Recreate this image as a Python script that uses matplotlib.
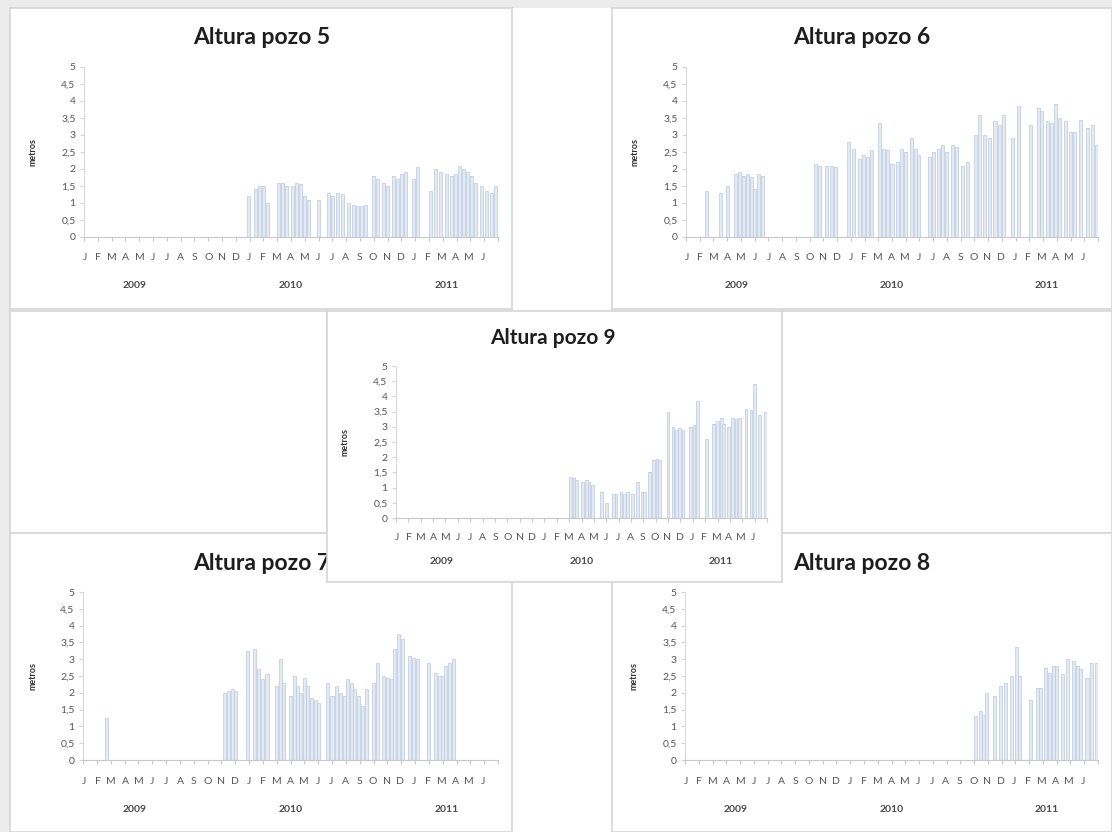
import matplotlib
matplotlib.use('Agg')
import matplotlib.pyplot as plt
import matplotlib.transforms as mtrans
from matplotlib.ticker import FuncFormatter, MultipleLocator

plt.rcParams['font.family'] = ['Lato', 'DejaVu Sans']

W, H = 1112, 832

meses = ['J', 'F', 'M', 'A', 'M', 'J', 'J', 'A', 'S', 'O', 'N', 'D'] * 2 + ['J', 'F', 'M', 'A', 'M', 'J']
anios = ['2009', '2010', '2011']
anios_pos = [3.7, 15.0, 26.3]

# posicion en meses desde enero 2009, altura en metros
pozo5_mes = [11.9, 12.4, 12.7, 13.0, 13.3, 14.1, 14.4, 14.7, 15.1, 15.4, 15.7, 16.0,
             16.3, 17.0, 17.7, 18.0, 18.4, 18.7, 19.2, 19.5, 19.8, 20.1, 20.4, 21.0,
             21.3, 21.7, 22.0, 22.4, 22.7, 23.0, 23.3, 23.9, 24.2, 25.1, 25.5, 25.8,
             26.3, 26.6, 26.9, 27.2, 27.5, 27.8, 28.1, 28.4, 28.8, 29.2, 29.5, 29.8]
pozo5_alt = [1.2, 1.4, 1.5, 1.5, 1.0, 1.6, 1.6, 1.5, 1.5, 1.6, 1.55, 1.2,
             1.1, 1.1, 1.3, 1.2, 1.3, 1.25, 1.0, 0.95, 0.9, 0.9, 0.95, 1.8,
             1.7, 1.6, 1.5, 1.8, 1.7, 1.85, 1.9, 1.7, 2.05, 1.35, 2.0, 1.9,
             1.85, 1.8, 1.85, 2.1, 2.0, 1.9, 1.8, 1.6, 1.5, 1.35, 1.3, 1.5]

pozo6_mes = [1.5, 2.5, 3.0, 3.6, 3.9, 4.2, 4.5, 4.8, 5.0, 5.3, 5.6, 9.4, 9.7,
             10.2, 10.6, 10.9, 11.8, 12.2, 12.6, 12.9, 13.2, 13.5, 14.1, 14.4, 14.7,
             15.0, 15.4, 15.7, 16.0, 16.4, 16.7, 16.9, 17.7, 18.0, 18.4, 18.7, 19.0,
             19.4, 19.7, 20.1, 20.5, 21.1, 21.4, 21.7, 22.1, 22.5, 22.8, 23.1, 23.8,
             24.2, 25.1, 25.7, 25.9, 26.3, 26.6, 26.9, 27.2, 27.6, 28.0, 28.3, 28.7,
             29.2, 29.6, 29.9]
pozo6_alt = [1.35, 1.3, 1.5, 1.85, 1.9, 1.8, 1.85, 1.75, 1.4, 1.85, 1.8, 2.15, 2.1,
             2.1, 2.1, 2.05, 2.8, 2.6, 2.3, 2.4, 2.35, 2.55, 3.35, 2.6, 2.55,
             2.15, 2.2, 2.6, 2.5, 2.9, 2.6, 2.4, 2.35, 2.5, 2.6, 2.7, 2.5,
             2.7, 2.65, 2.1, 2.2, 3.0, 3.6, 3.0, 2.9, 3.4, 3.3, 3.6, 2.9,
             3.85, 3.3, 3.8, 3.7, 3.4, 3.35, 3.9, 3.5, 3.4, 3.1, 3.1, 3.45,
             3.2, 3.3, 2.7]

pozo9_mes = [14.1, 14.4, 14.6, 15.1, 15.4, 15.6, 15.9, 16.6, 17.0, 17.6, 17.8,
             18.2, 18.5, 18.7, 19.1, 19.5, 19.9, 20.1, 20.5, 20.8, 21.1, 21.3,
             22.0, 22.4, 22.7, 22.9, 23.2, 23.8, 24.1, 24.4, 25.1, 25.7, 26.0,
             26.3, 26.5, 26.9, 27.2, 27.5, 27.8, 28.3, 28.7, 29.0, 29.4, 29.9]
pozo9_alt = [1.35, 1.3, 1.25, 1.2, 1.25, 1.2, 1.1, 0.85, 0.5, 0.8, 0.8,
             0.85, 0.8, 0.85, 0.8, 1.2, 0.85, 0.85, 1.5, 1.9, 1.95, 1.9,
             3.5, 3.0, 2.9, 2.95, 2.9, 3.0, 3.05, 3.85, 2.6, 3.1, 3.2,
             3.3, 3.1, 3.0, 3.3, 3.25, 3.3, 3.6, 3.55, 4.4, 3.4, 3.5]

pozo7_mes = [1.7, 10.2, 10.5, 10.8, 11.0, 11.9, 12.4, 12.7, 13.0, 13.3, 14.0, 14.3,
             14.5, 15.0, 15.3, 15.5, 15.7, 16.0, 16.2, 16.5, 16.8, 17.0, 17.7, 18.0,
             18.3, 18.6, 18.9, 19.1, 19.4, 19.6, 19.9, 20.2, 20.5, 21.0, 21.3, 21.7,
             22.0, 22.3, 22.5, 22.8, 23.1, 23.6, 23.9, 24.2, 25.0, 25.5, 25.8, 26.0,
             26.2, 26.5, 26.8]
pozo7_alt = [1.25, 2.0, 2.05, 2.1, 2.05, 3.25, 3.3, 2.7, 2.4, 2.55, 2.2, 3.0,
             2.3, 1.9, 2.5, 2.2, 2.0, 2.45, 2.2, 1.85, 1.8, 1.7, 2.3, 1.9,
             2.2, 2.0, 1.9, 2.4, 2.3, 2.1, 1.9, 1.6, 2.1, 2.3, 2.9, 2.5,
             2.45, 2.4, 3.3, 3.75, 3.6, 3.1, 3.05, 3.0, 2.9, 2.6, 2.5, 2.5,
             2.8, 2.9, 3.0]

pozo8_mes = [21.1, 21.5, 21.7, 21.9, 22.5, 22.9, 23.3, 23.7, 24.1, 24.3, 25.1,
             25.6, 25.8, 26.2, 26.5, 26.8, 27.0, 27.4, 27.8, 28.2, 28.5, 28.7,
             29.2, 29.5, 29.9]
pozo8_alt = [1.3, 1.45, 1.35, 2.0, 1.9, 2.2, 2.3, 2.5, 3.35, 2.5, 1.8,
             2.15, 2.15, 2.75, 2.6, 2.8, 2.8, 2.55, 3.0, 2.95, 2.8, 2.7,
             2.45, 2.9, 2.9]

fig = plt.figure(figsize=(W / 100, H / 100), dpi=100, facecolor='#ececec')


def px(x0, y0, x1, y1):
    return [x0 / W, 1 - y1 / H, (x1 - x0) / W, (y1 - y0) / H]


def marco(rect):
    a = fig.add_axes(px(*rect))
    a.set_xticks([])
    a.set_yticks([])
    a.set_facecolor('white')
    for s in a.spines.values():
        s.set_color('#d6d6d6')
        s.set_linewidth(1.2)
    return a


def coma(v, pos):
    return ('%g' % v).replace('.', ',')


def panel(marco_px, ejes_px, titulo, titulo_xy, mes, alt, dy_mes, dy_anio, tsize=16.5):
    fr = marco(marco_px)
    fr.text(titulo_xy[0] / W, 1 - titulo_xy[1] / H, titulo, transform=fig.transFigure,
            ha='center', va='center', fontsize=tsize, fontweight='bold', color='#1e1e1e')
    ax = fig.add_axes(px(*ejes_px))
    ax.set_facecolor('none')
    ax.bar(mes, alt, width=0.22, color='#e4eaf3', edgecolor='#bfcce0', linewidth=0.55)
    ax.set_xlim(0, 30)
    ax.set_ylim(0, 5)
    ax.yaxis.set_major_locator(MultipleLocator(0.5))
    ax.yaxis.set_major_formatter(FuncFormatter(coma))
    ax.set_xticks(range(31))
    ax.set_xticklabels([])
    for s in ['top', 'right']:
        ax.spines[s].set_visible(False)
    ax.spines['left'].set_color('#dadada')
    ax.spines['bottom'].set_color('#c8c8c8')
    ax.tick_params(axis='y', length=3, color='#d4d4d4', labelsize=7.5, labelcolor='#555555', pad=3)
    ax.tick_params(axis='x', length=3, color='#c8c8c8')
    axh = ejes_px[3] - ejes_px[1]
    axw = ejes_px[2] - ejes_px[0]
    tr = mtrans.blended_transform_factory(ax.transData, ax.transAxes)
    for i, m in enumerate(meses):
        ax.text(i * 0.995 + 0.05, -dy_mes / axh, m, transform=tr, ha='center', va='center',
                fontsize=7.5, color='#555555')
    for a, p in zip(anios, anios_pos):
        ax.text(p, -dy_anio / axh, a, transform=tr, ha='center', va='center',
                fontsize=7.5, fontweight='bold', color='#4a4a4a')
    ax.set_ylabel('metros', fontsize=6.5, fontweight='bold', color='#333333')
    ax.yaxis.set_label_coords(-46 / axw, 0.5)
    return ax


# fondo blanco general
fondo = fig.add_axes(px(10, 8, 1112, 832))
fondo.axis('off')
fondo.add_patch(plt.Rectangle((0, 0), 1, 1, color='white', transform=fondo.transAxes))

panel((10, 8, 512, 309), (84, 67, 498, 237), 'Altura pozo 5', (262, 37),
      pozo5_mes, pozo5_alt, 21, 49)
panel((612, 8, 1112, 309), (686, 67, 1098, 237), 'Altura pozo 6', (862, 37),
      pozo6_mes, pozo6_alt, 21, 49)
marco((10, 311, 327, 533))
marco((782, 311, 1112, 533))
panel((10, 533, 512, 832), (83, 592, 498, 760), 'Altura pozo 7', (262, 563),
      pozo7_mes, pozo7_alt, 22, 50)
panel((612, 533, 1112, 832), (685, 592, 1098, 760), 'Altura pozo 8', (862, 563),
      pozo8_mes, pozo8_alt, 22, 50)
panel((327, 311, 782, 582), (396, 366, 767, 518), 'Altura pozo 9', (553, 338),
      pozo9_mes, pozo9_alt, 19, 44, tsize=15)

fig.savefig('out.png', dpi=100, facecolor=fig.get_facecolor())
